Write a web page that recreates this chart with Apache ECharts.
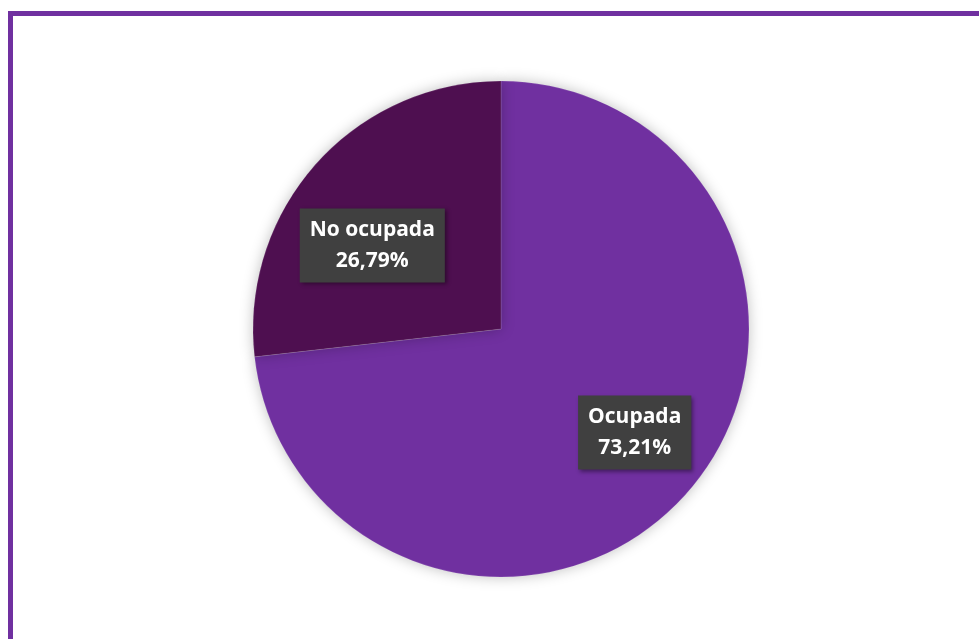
<!DOCTYPE html>
<html>
<head>
<meta charset="utf-8">
<script src="https://cdn.jsdelivr.net/npm/echarts@6/dist/echarts.min.js"></script>
<style>
html,body{margin:0;padding:0;background:#fff;overflow:hidden;}
#frame{position:absolute;left:8px;top:11px;width:1100px;height:800px;border:5px solid #7030A0;box-sizing:border-box;}
#chart{position:absolute;left:0;top:0;width:979px;height:639px;}
</style>
</head>
<body>
<div id="frame"></div>
<div id="chart"></div>
<script>
const categories = ['Ocupada', 'No ocupada'];
const values = [73.21, 26.79];
const labelsText = ['73,21%', '26,79%'];
const colors = ['#7030A0', '#4E0F50'];

const chart = echarts.init(document.getElementById('chart'));
const labelShift = [[39, 19], [-34, 1]];
chart.setOption({
  animation: false,
  series: [{
    type: 'pie',
    center: [501, 329],
    radius: [0, 248],
    startAngle: 90,
    clockwise: true,
    data: categories.map((c, i) => ({
      name: c,
      value: values[i],
      itemStyle: { color: colors[i] },
      label: { formatter: c + '\n' + labelsText[i] }
    })),
    itemStyle: {
      borderColor: 'rgba(255,255,255,0.25)',
      borderWidth: 0.5,
      shadowBlur: 14,
      shadowColor: 'rgba(0,0,0,0.25)'
    },
    label: {
      show: true,
      position: 'inside',
      color: '#fff',
      fontFamily: 'Open Sans',
      fontWeight: 'bold',
      fontSize: 21,
      lineHeight: 31,
      backgroundColor: '#404040',
      padding: [7, 10, 5, 10],
      shadowBlur: 4,
      shadowColor: 'rgba(0,0,0,0.4)',
      shadowOffsetX: 2,
      shadowOffsetY: 2
    },
    labelLine: { show: false },
    labelLayout: function (p) {
      const s = labelShift[p.dataIndex];
      return { dx: s[0], dy: s[1] };
    },
    emphasis: { disabled: true }
  }]
});
</script>
</body>
</html>
